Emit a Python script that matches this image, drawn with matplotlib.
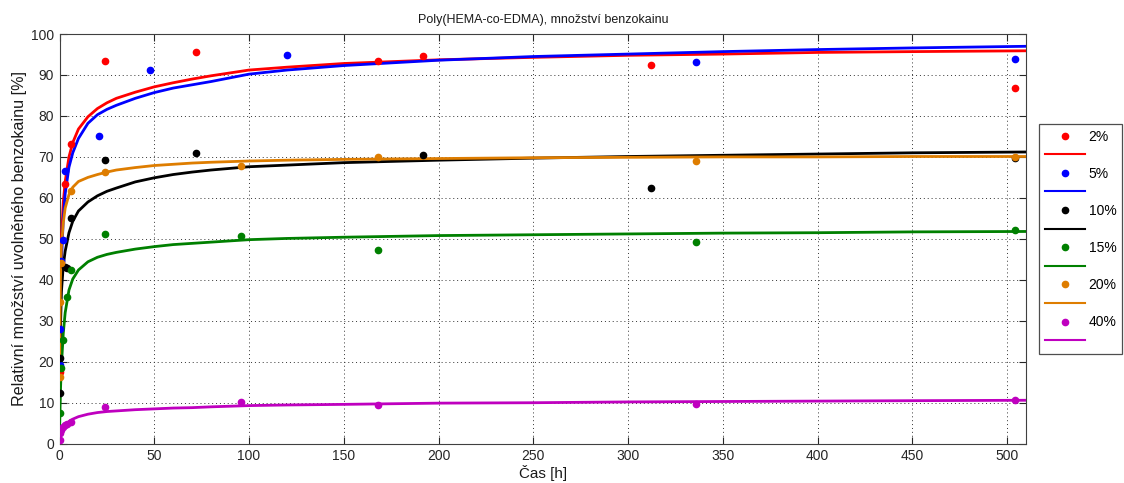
import matplotlib
matplotlib.use("Agg")
import matplotlib.pyplot as plt
from matplotlib.lines import Line2D

plt.rcParams['font.family'] = ['Liberation Sans', 'DejaVu Sans']

labels = ['2%', '5%', '10%', '15%', '20%', '40%']
colors = ['#ff0000', '#0000ff', '#000000', '#008000', '#de7d00', '#bf00bf']

# measured points
t_2 = [0.25, 1, 3, 6, 24, 72, 168, 192, 312, 504]
y_2 = [17.4, 44.0, 63.4, 73.2, 93.4, 95.7, 93.3, 94.7, 92.5, 86.9]
t_5 = [0.25, 0.5, 1, 2, 3, 21, 48, 120, 336, 504]
y_5 = [19.1, 27.9, 44.6, 49.6, 66.6, 75.2, 91.3, 94.8, 93.2, 93.9]
t_10 = [0.25, 0.5, 3, 4, 6, 24, 72, 192, 312, 504]
y_10 = [12.3, 20.9, 43.2, 43.0, 55.2, 69.3, 71.0, 70.5, 62.4, 69.7]
t_15 = [0.25, 1, 2, 4, 6, 24, 96, 168, 336, 504]
y_15 = [7.5, 18.5, 25.2, 35.8, 42.3, 51.2, 50.6, 47.4, 49.3, 52.2]
t_20 = [0.25, 0.5, 1, 6, 24, 96, 168, 336, 504]
y_20 = [16.3, 34.5, 44.0, 61.7, 66.4, 67.8, 70.1, 68.9, 70.0]
t_40 = [0.25, 0.5, 1, 2, 3, 4, 6, 24, 96, 168, 336, 504]
y_40 = [0.9, 2.5, 3.3, 4.1, 4.5, 4.8, 5.2, 9.0, 10.1, 9.4, 9.7, 10.7]

# fitted curves
t_fit = [0.1, 0.5, 1, 2, 3, 5, 7, 10, 15, 20, 25, 30, 40, 50, 60, 70, 80,
         100, 120, 150, 200, 250, 300, 350, 400, 450, 510]
f_2 = [20, 40, 50, 59, 64, 70, 73.5, 76.8, 79.8, 81.8, 83.2, 84.3, 85.8, 87.1,
       88.1, 89.0, 89.8, 91.2, 91.9, 92.8, 93.7, 94.3, 94.8, 95.1, 95.5, 95.7, 95.9]
f_5 = [15, 33, 44, 55, 61, 67.5, 71, 74.5, 78.2, 80.3, 81.6, 82.6, 84.3, 85.7,
       86.8, 87.6, 88.4, 90.2, 91.2, 92.3, 93.6, 94.5, 95.1, 95.7, 96.2, 96.6, 97.0]
f_10 = [10, 28, 37, 43.5, 47, 51.5, 54.3, 56.8, 59.0, 60.5, 61.6, 62.4, 63.9,
        64.9, 65.7, 66.3, 66.8, 67.6, 68.0, 68.6, 69.2, 69.7, 70.1, 70.4, 70.7,
        71.0, 71.2]
f_15 = [5, 13, 19, 27, 32, 37.5, 40.2, 42.4, 44.4, 45.5, 46.2, 46.7, 47.5, 48.1,
        48.6, 48.9, 49.2, 49.8, 50.1, 50.4, 50.8, 51.0, 51.2, 51.4, 51.5, 51.7, 51.8]
f_20 = [22, 40, 48, 54, 57.5, 60.8, 62.6, 64.0, 65.0, 65.7, 66.3, 66.8, 67.4,
        67.9, 68.2, 68.5, 68.7, 69.0, 69.2, 69.4, 69.6, 69.8, 69.9, 70.0, 70.0,
        70.1, 70.1]
f_40 = [0.5, 1.8, 2.8, 3.8, 4.5, 5.4, 6.0, 6.6, 7.2, 7.6, 7.85, 8.0, 8.3, 8.5,
        8.7, 8.8, 9.0, 9.3, 9.45, 9.6, 9.9, 10.0, 10.2, 10.3, 10.4, 10.5, 10.6]

pts = [(t_2, y_2), (t_5, y_5), (t_10, y_10), (t_15, y_15), (t_20, y_20), (t_40, y_40)]
fits = [f_2, f_5, f_10, f_15, f_20, f_40]

W, H = 1124, 483
fig = plt.figure(figsize=(W / 100, H / 100), dpi=100)
ax = fig.add_axes([59.5 / W, (H - 443.7) / H, (1026 - 59.5) / W, (443.7 - 34) / H])

handles = []
for (tt, yy), ff, c, lab in zip(pts, fits, colors, labels):
    ax.plot(t_fit, ff, color=c, lw=2.0, zorder=3, solid_joinstyle='round')
    ax.plot(tt, yy, 'o', color=c, ms=4.5, mec=c, zorder=4)
    handles.append(Line2D([], [], ls='none', marker='o', color=c, ms=4.5, label=lab))
    handles.append(Line2D([], [], color=c, lw=1.5, label=' '))

ax.set_xlim(0, 510)
ax.set_ylim(0, 100)
ax.set_xticks(range(0, 501, 50))
ax.set_yticks(range(0, 101, 10))
ax.grid(True, color='#333333', linestyle=(0, (1, 3)), linewidth=0.7)
ax.tick_params(direction='in', length=5, width=0.8, top=True, right=True,
               labelsize=10, colors='#262626', pad=4)
for s in ax.spines.values():
    s.set_color('#404040')
    s.set_linewidth(0.8)

ax.set_title('Poly(HEMA-co-EDMA), množství benzokainu', fontsize=9, pad=8, color='#1a1a1a')
ax.set_xlabel('Čas [h]', fontsize=11, labelpad=1, color='#1a1a1a')
ax.set_ylabel('Relativní množství uvolněného benzokainu [%]', fontsize=11.6, labelpad=3, color='#1a1a1a')

leg = fig.legend(handles=handles, loc='upper left',
                 bbox_to_anchor=(1039 / W, 1 - 124 / H), fontsize=10,
                 frameon=True, fancybox=False, edgecolor='#222222',
                 handlelength=2.9, handletextpad=0.28, labelspacing=0.33,
                 borderpad=0.4, borderaxespad=0, markerfirst=True)
leg.get_frame().set_linewidth(0.9)

fig.savefig('out.png', dpi=100)
